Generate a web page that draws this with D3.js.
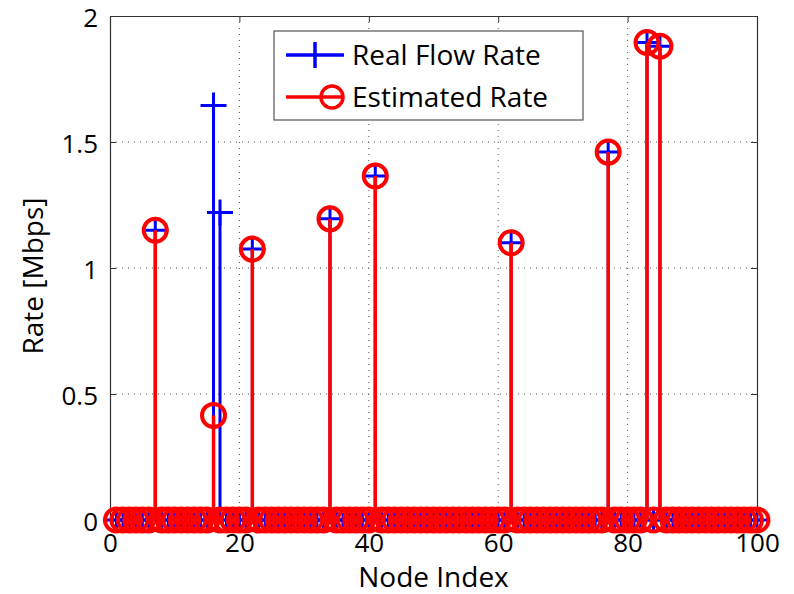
<!DOCTYPE html>
<html>
<head>
<meta charset="utf-8">
<script src="https://cdn.jsdelivr.net/npm/d3@7"></script>
<style>
    body { margin: 0; background: #fff; }
    svg { display: block; font-family: "Open Sans", sans-serif; }
    .grid line { stroke: #555; stroke-width: 1; stroke-dasharray: 1,5; }
</style>
</head>
<body>
<div id="chart"></div>
<script>
// node index 1..100
var nodes = d3.range(1, 101);

// real flow rate per node [Mbps]
var realRate = [
    0, 0, 0, 0, 0, 0, 1.15, 0, 0, 0,
    0, 0, 0, 0, 0, 1.645, 1.22, 0, 0, 0,
    0, 1.075, 0, 0, 0, 0, 0, 0, 0, 0,
    0, 0, 0, 1.195, 0, 0, 0, 0, 0, 0,
    1.365, 0, 0, 0, 0, 0, 0, 0, 0, 0,
    0, 0, 0, 0, 0, 0, 0, 0, 0, 0,
    0, 1.10, 0, 0, 0, 0, 0, 0, 0, 0,
    0, 0, 0, 0, 0, 0, 1.46, 0, 0, 0,
    0, 0, 1.895, 0, 1.88, 0, 0, 0, 0, 0,
    0, 0, 0, 0, 0, 0, 0, 0, 0, 0
];

// estimated rate per node [Mbps]
var estRate = [
    0, 0, 0, 0, 0, 0, 1.15, 0, 0, 0,
    0, 0, 0, 0, 0, 0.415, 0, 0, 0, 0,
    0, 1.075, 0, 0, 0, 0, 0, 0, 0, 0,
    0, 0, 0, 1.195, 0, 0, 0, 0, 0, 0,
    1.365, 0, 0, 0, 0, 0, 0, 0, 0, 0,
    0, 0, 0, 0, 0, 0, 0, 0, 0, 0,
    0, 1.10, 0, 0, 0, 0, 0, 0, 0, 0,
    0, 0, 0, 0, 0, 0, 1.46, 0, 0, 0,
    0, 0, 1.895, 0, 1.88, 0, 0, 0, 0, 0,
    0, 0, 0, 0, 0, 0, 0, 0, 0, 0
];

var xTicks = [0, 20, 40, 60, 80, 100];
var yTicks = [0, 0.5, 1, 1.5, 2];
var seriesNames = ["Real Flow Rate", "Estimated Rate"];

var W = 794, H = 594;
var margin = {top: 16, right: 37, bottom: 74, left: 110};
var width = W - margin.left - margin.right,
    height = H - margin.top - margin.bottom;

var svg = d3.select("#chart").append("svg")
    .attr("width", W)
    .attr("height", H);

var g = svg.append("g")
    .attr("transform", "translate(" + margin.left + "," + margin.top + ")");

var x = d3.scaleLinear().domain([0, 100]).range([0, width]);
var y = d3.scaleLinear().domain([0, 2]).range([height, 0]);

// grid
var grid = g.append("g").attr("class", "grid");
grid.selectAll(".gx")
    .data(xTicks.slice(1, -1))
    .enter().append("line")
    .attr("x1", function (d) { return x(d); })
    .attr("x2", function (d) { return x(d); })
    .attr("y1", 0)
    .attr("y2", height);
grid.selectAll(".gy")
    .data(yTicks.slice(1, -1))
    .enter().append("line")
    .attr("x1", 0)
    .attr("x2", width)
    .attr("y1", function (d) { return y(d); })
    .attr("y2", function (d) { return y(d); });

// axes, ticks inside
var axisColor = "#333";
var xb = g.append("g").attr("transform", "translate(0," + height + ")")
    .call(d3.axisBottom(x).tickValues(xTicks).tickSizeInner(-6).tickSizeOuter(0).tickPadding(10).tickFormat(d3.format("d")));
var xt = g.append("g")
    .call(d3.axisTop(x).tickValues(xTicks).tickSizeInner(-6).tickSizeOuter(0).tickFormat(""));
var yl = g.append("g")
    .call(d3.axisLeft(y).tickValues(yTicks).tickSizeInner(-6).tickSizeOuter(0).tickPadding(12).tickFormat(function (d) { return d; }));
var yr = g.append("g").attr("transform", "translate(" + width + ",0)")
    .call(d3.axisRight(y).tickValues(yTicks).tickSizeInner(-6).tickSizeOuter(0).tickFormat(""));

[xb, xt, yl, yr].forEach(function (a) {
    a.select(".domain").attr("stroke", axisColor).attr("stroke-width", 1.2);
    a.selectAll(".tick line").attr("stroke", axisColor);
    a.selectAll("text").attr("font-size", 26).attr("fill", "#000")
        .attr("font-family", "'Open Sans', sans-serif");
});
xb.selectAll("text").attr("dy", "0.85em");
yl.selectAll("text").attr("dy", "0.4em");

// stems - real (blue, plus markers) first
var blue = "#0000ff", red = "#ff0000";
var realData = nodes.map(function (n, i) { return {n: n, v: realRate[i]}; });
var estData = nodes.map(function (n, i) { return {n: n, v: estRate[i]}; });
var plus = 13, rad = 11.5;

var realG = g.append("g");
realG.selectAll(".stem")
    .data(realData.filter(function (d) { return d.v !== 0; }))
    .enter().append("line")
    .attr("x1", function (d) { return x(d.n); })
    .attr("x2", function (d) { return x(d.n); })
    .attr("y1", y(0))
    .attr("y2", function (d) { return y(d.v); })
    .attr("stroke", blue).attr("stroke-width", 3);
realG.selectAll(".mk")
    .data(realData)
    .enter().append("path")
    .attr("d", function (d) {
        var cx = x(d.n), cy = y(d.v);
        return "M" + (cx - plus) + "," + cy + "H" + (cx + plus) +
            "M" + cx + "," + (cy - plus) + "V" + (cy + plus);
    })
    .attr("stroke", blue).attr("stroke-width", 3).attr("fill", "none");

var estG = g.append("g");
estG.selectAll(".stem")
    .data(estData.filter(function (d) { return d.v !== 0; }))
    .enter().append("line")
    .attr("x1", function (d) { return x(d.n); })
    .attr("x2", function (d) { return x(d.n); })
    .attr("y1", y(0))
    .attr("y2", function (d) { return y(d.v); })
    .attr("stroke", red).attr("stroke-width", 3.5);
estG.selectAll(".mk")
    .data(estData)
    .enter().append("circle")
    .attr("cx", function (d) { return x(d.n); })
    .attr("cy", function (d) { return y(d.v); })
    .attr("r", rad)
    .attr("stroke", red).attr("stroke-width", 4).attr("fill", "none");

// axis labels
svg.append("text")
    .attr("x", margin.left + width / 2)
    .attr("y", 587)
    .attr("text-anchor", "middle")
    .attr("font-size", 28)
    .text("Node Index");

svg.append("text")
    .attr("transform", "translate(43," + (margin.top + height / 2 + 8) + ") rotate(-90)")
    .attr("text-anchor", "middle")
    .attr("font-size", 28)
    .text("Rate [Mbps]");

// legend
var lg = svg.append("g").attr("transform", "translate(274,31)");
lg.append("rect")
    .attr("width", 309).attr("height", 89)
    .attr("fill", "#fff").attr("stroke", "#555").attr("stroke-width", 1.2);

var rows = [{name: seriesNames[0], color: blue, mark: "plus"},
            {name: seriesNames[1], color: red, mark: "circle"}];
var row = lg.selectAll(".row")
    .data(rows)
    .enter().append("g")
    .attr("transform", function (d, i) { return "translate(0," + (24 + i * 42) + ")"; });
row.append("line")
    .attr("x1", 12).attr("x2", 70).attr("y1", 0).attr("y2", 0)
    .attr("stroke", function (d) { return d.color; }).attr("stroke-width", 3.5);
row.filter(function (d) { return d.mark === "plus"; })
    .append("path")
    .attr("d", "M41,-13V13")
    .attr("stroke", blue).attr("stroke-width", 3.5);
row.filter(function (d) { return d.mark === "circle"; })
    .append("circle")
    .attr("cx", 58).attr("cy", 0).attr("r", 11)
    .attr("fill", "none").attr("stroke", red).attr("stroke-width", 3.5);
row.append("text")
    .attr("x", 78).attr("y", 10)
    .attr("font-size", 28)
    .text(function (d) { return d.name; });
</script>
</body>
</html>
